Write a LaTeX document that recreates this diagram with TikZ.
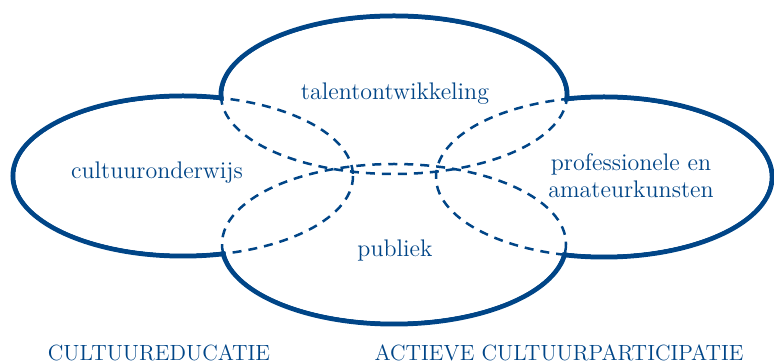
\documentclass[tikz,border=0pt]{standalone}
\usepackage{tikz}
\usetikzlibrary{calc}
\definecolor{kvblue}{RGB}{0,69,135}
\tikzstyle{rim} = [draw=kvblue, line width=2.5pt]
\tikzstyle{inner} = [draw=kvblue, line width=1.25pt, dash pattern=on 4.5pt off 3.5pt]
\tikzstyle{field} = [text=kvblue, align=center, inner sep=0pt, font=\fontsize{12}{13.5}\selectfont]
\tikzstyle{sector} = [text=kvblue, inner sep=0pt, font=\fontsize{11}{12}\selectfont]

\begin{document}
\begin{tikzpicture}[x=0.5pt, y=-0.5pt]
    \useasboundingbox (0,0) rectangle (774,362);
    % centres of the four fields
    \coordinate (tal) at (394,95);
    \coordinate (pub) at (394,244);
    \coordinate (ond) at (183,176);
    \coordinate (kun) at (604,177);

    % solid outline, then white out the overlaps, then the dashed inner parts
    \foreach \c/\rx/\ry in {tal/173/79, pub/172/80, ond/170/80, kun/168/80}
        \draw [rim] (\c) ellipse [x radius=\rx, y radius=\ry];
    \foreach \c/\rx/\ry in {tal/170.5/76.5, pub/169.5/77.5, ond/167.5/77.5, kun/165.5/77.5}
        \fill [white] (\c) ellipse [x radius=\rx, y radius=\ry];
    \foreach \c/\rx/\ry in {tal/173/79, pub/172/80, ond/170/80, kun/168/80}
        \draw [inner] (\c) ellipse [x radius=\rx, y radius=\ry];

    \node [field, anchor=base] (talent) at ($(tal)+(1,5)$) {talentontwikkeling};
    \node [field, anchor=base] (publiek) at ($(pub)+(1,13)$) {publiek};
    \node [field, anchor=base] (onderwijs) at (157,179) {cultuuronderwijs};
    \node [field] (kunsten) at (631,176) {professionele en\\amateurkunsten};

    \node [sector, anchor=base] (educatie) at (159,360.5) {CULTUUREDUCATIE};
    \node [sector, anchor=base] (participatie) at (559,360.5) {ACTIEVE CULTUURPARTICIPATIE};
\end{tikzpicture}
\end{document}
